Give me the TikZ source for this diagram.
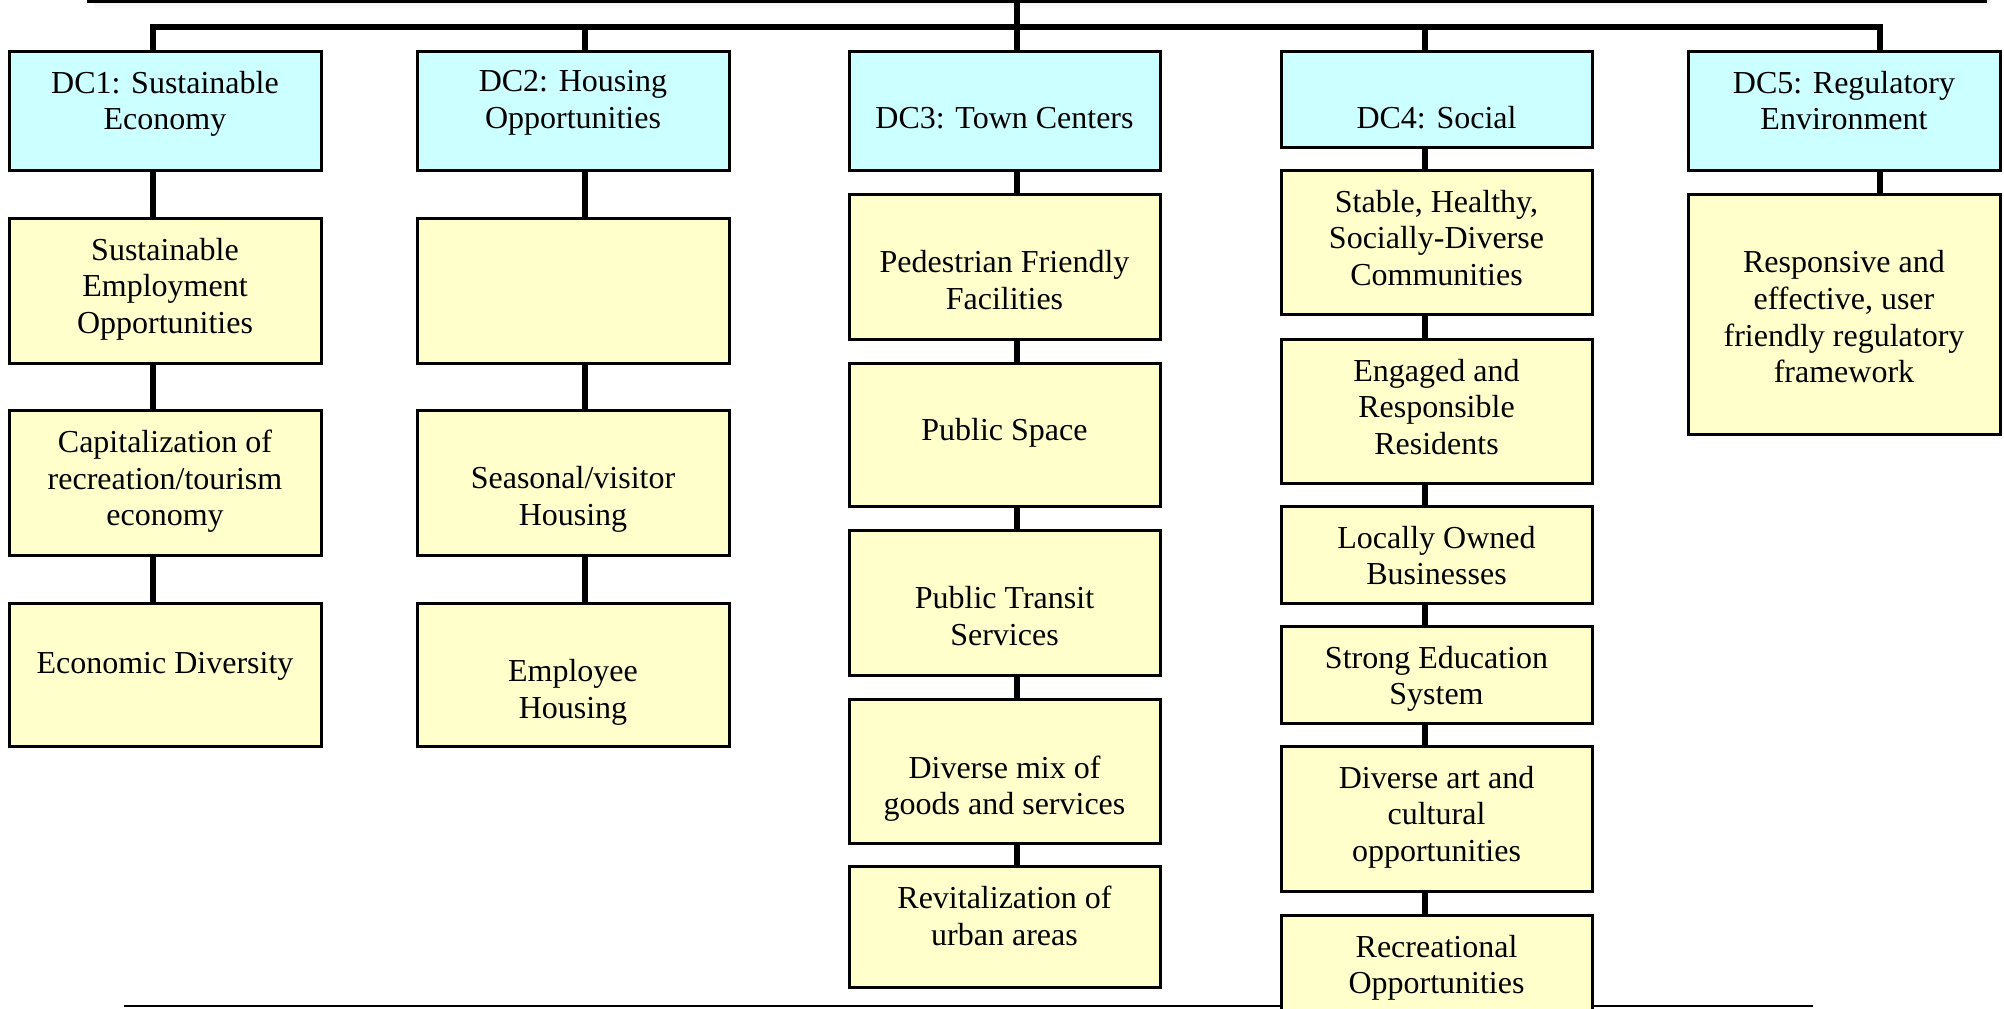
\documentclass[tikz,border=0pt]{standalone}
\usepackage{fontspec}
\setmainfont{Liberation Serif}
\usetikzlibrary{fit,calc}
\definecolor{cfill}{HTML}{CCFFFF}
\definecolor{yfill}{HTML}{FFFFCC}
\definecolor{gfill}{HTML}{CCFFCC}
\definecolor{shade}{HTML}{B8B8B8}
\newcommand\boxfont{\fontsize{16pt}{18.35pt}\selectfont}
\tikzset{
  basebox/.style={draw=black, line width=1.5pt, inner sep=0pt, rectangle},
  cbox/.style={basebox, fill=cfill},
  ybox/.style={basebox, fill=yfill},
  gbox/.style={basebox, fill=gfill},
  txt/.style={anchor=north, inner sep=0pt, align=center, font=\boxfont,
    execute at begin node={\vrule height 13pt width 0pt depth 0pt}},
  conn/.style={draw=black, line width=2.75pt, line join=miter},
  footline/.style={draw=black, line width=1pt},
}
\begin{document}
\begin{tikzpicture}[x=0.5pt, y=-0.5pt]
\useasboundingbox (0,0) rectangle (2004,1008);
\clip (0,0) rectangle (2004,1008);
% column axes
\coordinate (x1) at (153,0);
\coordinate (x2) at (585,0);
\coordinate (x3) at (1017,0);
\coordinate (x4) at (1425,0);
\coordinate (x5) at (1880,0);
\coordinate (busL) at (153,27);
\coordinate (busR) at (1880,27);
\coordinate (fl) at (124,1006);
\coordinate (fr) at (1813,1006);
% footer line (behind boxes)
\draw[footline] (fl) -- (fr);
% top box with shadow
\fill[shade] (94,-54) rectangle (1991,9);
\node[gbox, fit={(88,-60) (1985,1.5)}] (top) {};
% column 1
\node[cbox, fit={(9,51) (321,170)}] (d1) {};
\node[ybox, fit={(9,218) (321,363)}] (a1) {};
\node[ybox, fit={(9,410) (321,555)}] (a2) {};
\node[ybox, fit={(9,603) (321,746)}] (a3) {};
% column 2
\node[cbox, fit={(417,51) (729,170)}] (d2) {};
\node[ybox, fit={(417,218) (729,363)}] (b1) {};
\node[ybox, fit={(417,410) (729,555)}] (b2) {};
\node[ybox, fit={(417,603) (729,746)}] (b3) {};
% column 3
\node[cbox, fit={(849,51) (1160,170)}] (d3) {};
\node[ybox, fit={(849,194) (1160,339)}] (c1) {};
\node[ybox, fit={(849,363) (1160,506)}] (c2) {};
\node[ybox, fit={(849,530) (1160,675)}] (c3) {};
\node[ybox, fit={(849,699) (1160,843)}] (c4) {};
\node[ybox, fit={(849,866) (1160,987)}] (c5) {};
% column 4
\node[cbox, fit={(1281,51) (1592,147)}] (d4) {};
\node[ybox, fit={(1281,170) (1592,314)}] (e1) {};
\node[ybox, fit={(1281,339) (1592,483)}] (e2) {};
\node[ybox, fit={(1281,506) (1592,603)}] (e3) {};
\node[ybox, fit={(1281,626) (1592,723)}] (e4) {};
\node[ybox, fit={(1281,746) (1592,891)}] (e5) {};
\node[ybox, fit={(1281,915) (1592,1060)}] (e6) {};
% column 5
\node[cbox, fit={(1688,51) (2000,170)}] (d5) {};
\node[ybox, fit={(1688,194) (2000,434)}] (f1) {};
% connectors
\draw[conn] (d1.north -| busL) -- (busL) -- (busR) -- (d5.north -| busR);
\draw[conn] (top.south -| x3) -- (d3.north -| x3);
\draw[conn] (busL -| x2) -- (d2.north -| x2);
\draw[conn] (busL -| x4) -- (d4.north -| x4);
\draw[conn] (d1.south -| x1) -- (a1.north -| x1);
\draw[conn] (a1.south -| x1) -- (a2.north -| x1);
\draw[conn] (a2.south -| x1) -- (a3.north -| x1);
\draw[conn] (d2.south -| x2) -- (b1.north -| x2);
\draw[conn] (b1.south -| x2) -- (b2.north -| x2);
\draw[conn] (b2.south -| x2) -- (b3.north -| x2);
\draw[conn] (d3.south -| x3) -- (c1.north -| x3);
\draw[conn] (c1.south -| x3) -- (c2.north -| x3);
\draw[conn] (c2.south -| x3) -- (c3.north -| x3);
\draw[conn] (c3.south -| x3) -- (c4.north -| x3);
\draw[conn] (c4.south -| x3) -- (c5.north -| x3);
\draw[conn] (d4.south -| x4) -- (e1.north -| x4);
\draw[conn] (e1.south -| x4) -- (e2.north -| x4);
\draw[conn] (e2.south -| x4) -- (e3.north -| x4);
\draw[conn] (e3.south -| x4) -- (e4.north -| x4);
\draw[conn] (e4.south -| x4) -- (e5.north -| x4);
\draw[conn] (e5.south -| x4) -- (e6.north -| x4);
\draw[conn] (d5.south -| x5) -- (f1.north -| x5);
% texts
\node[txt] (td1) at ($(d1.north)+(0,20.9)$) {DC1: Sustainable\\Economy};
\node[txt] (ta1) at ($(a1.north)+(0,20.9)$) {Sustainable\\Employment\\Opportunities};
\node[txt] (ta2) at ($(a2.north)+(0,20.9)$) {Capitalization of\\recreation/tourism\\economy};
\node[txt] (ta3) at ($(a3.north)+(0,45.8)$) {Economic Diversity};
\node[txt] (td2) at ($(d2.north)+(0,20.9)$) {DC2: Housing\\Opportunities};
\node[txt] (tb2) at ($(b2.north)+(0,57.6)$) {Seasonal/visitor\\Housing};
\node[txt] (tb3) at ($(b3.north)+(0,57.6)$) {Employee\\Housing};
\node[txt] (td3) at ($(d3.north)+(0,52.5)$) {DC3: Town Centers};
\node[txt] (tc1) at ($(c1.north)+(0,57.6)$) {Pedestrian Friendly\\Facilities};
\node[txt] (tc2) at ($(c2.north)+(0,52.5)$) {Public Space};
\node[txt] (tc3) at ($(c3.north)+(0,57.6)$) {Public Transit\\Services};
\node[txt] (tc4) at ($(c4.north)+(0,57.6)$) {Diverse mix of\\goods and services};
\node[txt] (tc5) at ($(c5.north)+(0,20.9)$) {Revitalization of\\urban areas};
\node[txt] (td4) at ($(d4.north)+(0,52.5)$) {DC4: Social};
\node[txt] (te1) at ($(e1.north)+(0,20.9)$) {Stable, Healthy,\\Socially-Diverse\\Communities};
\node[txt] (te2) at ($(e2.north)+(0,20.9)$) {Engaged and\\Responsible\\Residents};
\node[txt] (te3) at ($(e3.north)+(0,20.9)$) {Locally Owned\\Businesses};
\node[txt] (te4) at ($(e4.north)+(0,20.9)$) {Strong Education\\System};
\node[txt] (te5) at ($(e5.north)+(0,20.9)$) {Diverse art and\\cultural\\opportunities};
\node[txt] (te6) at ($(e6.north)+(0,20.9)$) {Recreational\\Opportunities};
\node[txt] (td5) at ($(d5.north)+(0,20.9)$) {DC5: Regulatory\\Environment};
\node[txt] (tf1) at ($(f1.north)+(0,57.6)$) {Responsive and\\effective, user\\friendly regulatory\\framework};
\end{tikzpicture}
\end{document}
